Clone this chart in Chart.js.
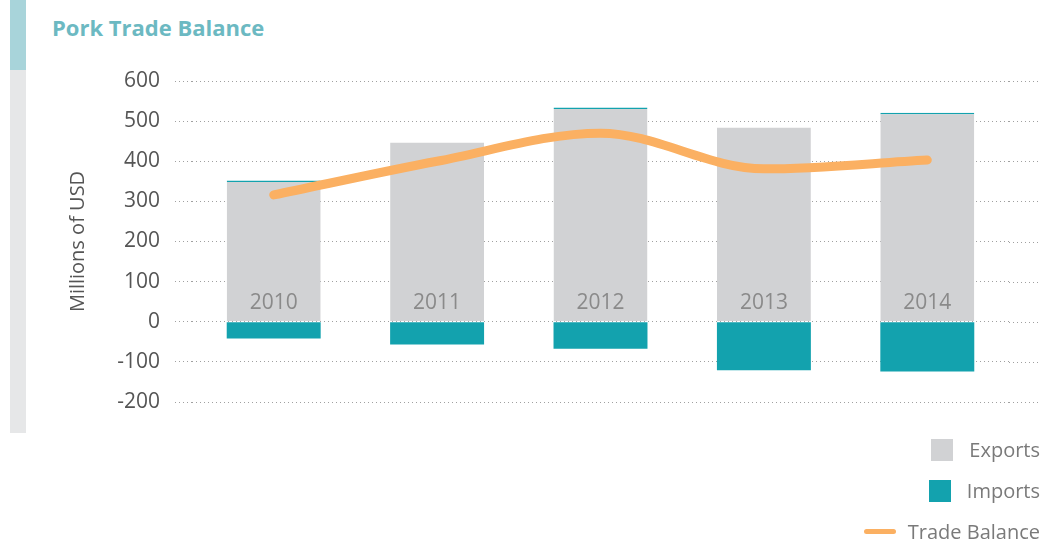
<!DOCTYPE html>
<html>
<head>
<meta charset="utf-8">
<script src="https://cdn.jsdelivr.net/npm/chart.js@4"></script>
<style>
    body { margin: 0; background: #fff; font-family: 'Open Sans', sans-serif; }
    #wrap { position: relative; width: 1046px; height: 543px; overflow: hidden; }
    #sideBar { position: absolute; left: 10px; top: 0; width: 16px; height: 433px; background: #e6e7e8; }
    #sideBar div { height: 70px; background: #a8d4da; }
    #title { position: absolute; left: 52px; top: 12px; font-size: 22px; font-weight: 700; color: #6cb9c2; }
    #chartBox { position: absolute; left: 0; top: 0; width: 1046px; height: 543px; }
    #legend { position: absolute; right: 6px; top: 429px; color: #7a7a7a; font-size: 20px; }
    .item { display: flex; justify-content: flex-end; align-items: center; height: 41px; }
    .item span.box { width: 22px; height: 22px; margin-right: 16px; }
    .item span.line { width: 32px; height: 5px; border-radius: 3px; margin-right: 12px; }
</style>
</head>
<body>
<div id="wrap">
    <div id="sideBar"><div></div></div>
    <div id="title">Pork Trade Balance</div>
    <div id="chartBox"><canvas id="tradeChart"></canvas></div>
    <div id="legend"></div>
</div>
<script>
const years = ['2010', '2011', '2012', '2013', '2014'];
const exportsData = [352, 447, 534, 484, 521];
const importsData = [-42, -57, -67, -121, -124];
const balanceData = [316, 400, 470, 381, 403];
const yTicks = [-200, -100, 0, 100, 200, 300, 400, 500, 600];

const gridColor = '#a0a0a0';

// year labels drawn inside the bars, just above zero
const yearLabels = {
    id: 'yearLabels',
    afterDatasetsDraw(chart) {
        const ctx = chart.ctx;
        const x = chart.scales.x;
        const y = chart.scales.y;
        ctx.save();
        ctx.font = '21px "Open Sans"';
        ctx.fillStyle = '#8a8a8a';
        ctx.textAlign = 'center';
        ctx.textBaseline = 'middle';
        years.forEach((yr, i) => {
            ctx.fillText(yr, x.getPixelForValue(i), y.getPixelForValue(0) - 19);
        });
        ctx.restore();
    }
};

// grid lines run a bit past the plot on the right
const gridExtend = {
    id: 'gridExtend',
    beforeDatasetsDraw(chart) {
        const ctx = chart.ctx;
        const y = chart.scales.y;
        const right = chart.chartArea.right;
        ctx.save();
        ctx.strokeStyle = gridColor;
        ctx.lineWidth = 1;
        ctx.setLineDash([1, 3]);
        yTicks.forEach(v => {
            const py = Math.round(y.getPixelForValue(v)) + 0.5;
            ctx.beginPath();
            ctx.moveTo(right, py);
            ctx.lineTo(right + 31, py);
            ctx.stroke();
        });
        ctx.restore();
    }
};

const ctx = document.getElementById('tradeChart').getContext('2d');
const chart = new Chart(ctx, {
    type: 'bar',
    data: {
        labels: years,
        datasets: [
            {
                type: 'line',
                label: 'Trade Balance',
                data: balanceData,
                borderColor: '#fbb062',
                backgroundColor: '#fbb062',
                borderWidth: 9,
                borderCapStyle: 'round',
                borderJoinStyle: 'round',
                pointRadius: 0,
                cubicInterpolationMode: 'monotone',
                order: 0
            },
            {
                label: 'Exports',
                data: exportsData,
                backgroundColor: '#d1d2d4',
                borderColor: ['#13a2ae', '#d1d2d4', '#13a2ae', '#d1d2d4', '#13a2ae'],
                borderWidth: { top: 1.5, right: 0, bottom: 0, left: 0 },
                borderSkipped: 'bottom',
                order: 1
            },
            {
                label: 'Imports',
                data: importsData,
                backgroundColor: '#13a2ae',
                borderColor: '#ffffff',
                borderWidth: { top: 2, right: 0, bottom: 0, left: 0 },
                borderSkipped: 'bottom',
                order: 1
            }
        ]
    },
    options: {
        responsive: true,
        maintainAspectRatio: false,
        animation: false,
        layout: {
            padding: { left: 30, right: 37, top: 81, bottom: 141 }
        },
        datasets: {
            bar: { categoryPercentage: 1, barPercentage: 0.575 }
        },
        plugins: {
            legend: { display: false },
            tooltip: { enabled: false }
        },
        scales: {
            x: {
                display: false,
                stacked: true
            },
            y: {
                min: -200,
                max: 600,
                afterFit: axis => { axis.width = 162; },
                afterBuildTicks: axis => { axis.ticks = yTicks.map(v => ({ value: v })); },
                border: { display: false, dash: [1, 3] },
                grid: {
                    color: gridColor,
                    tickColor: gridColor,
                    tickLength: 17,
                    tickBorderDash: [1, 3]
                },
                ticks: {
                    padding: 15,
                    color: '#555555',
                    font: { family: 'Open Sans', size: 21 }
                },
                title: {
                    display: true,
                    text: 'Millions of USD',
                    color: '#555555',
                    font: { family: 'Open Sans', size: 20 },
                    padding: { top: 36, bottom: 0 }
                }
            }
        }
    },
    plugins: [gridExtend, yearLabels]
});

// legend built from the datasets, bars first
const legendEl = document.getElementById('legend');
[1, 2, 0].forEach(i => {
    const ds = chart.data.datasets[i];
    const row = document.createElement('div');
    row.className = 'item';
    const mark = document.createElement('span');
    mark.className = ds.type === 'line' ? 'line' : 'box';
    mark.style.background = ds.backgroundColor;
    const text = document.createElement('span');
    text.textContent = ds.label;
    row.appendChild(mark);
    row.appendChild(text);
    legendEl.appendChild(row);
});
</script>
</body>
</html>
